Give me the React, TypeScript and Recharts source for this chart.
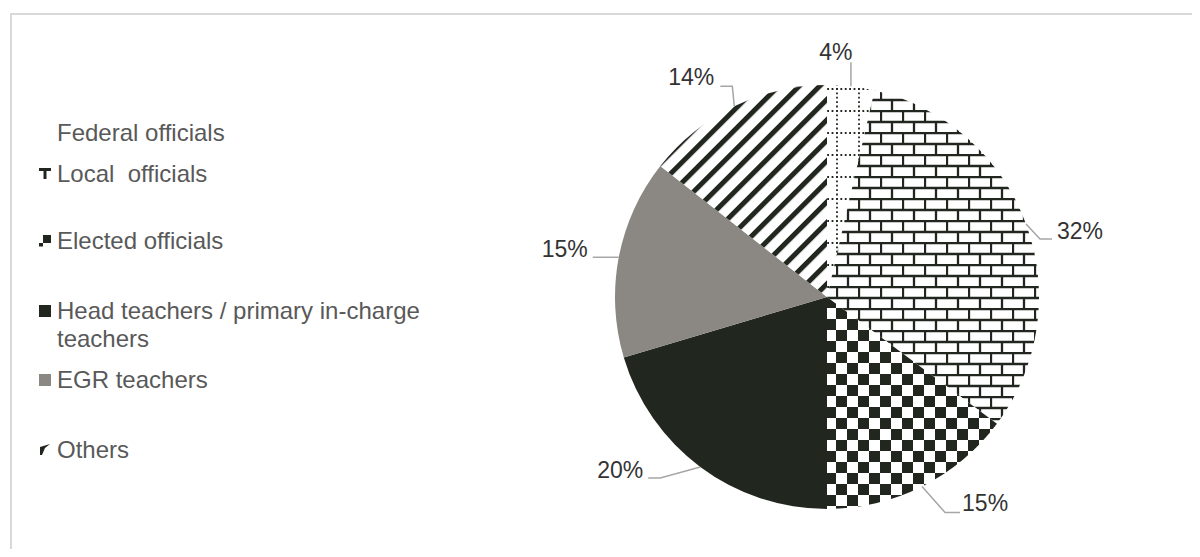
import { Pie, PieChart, Cell } from "recharts";

const categories = [
  "Federal officials",
  "Local  officials",
  "Elected officials",
  "Head teachers / primary in-charge teachers",
  "EGR teachers",
  "Others",
];
// shares; labels show them rounded
const shares = [3.6, 31.6, 14.8, 20.4, 15.2, 14.4];

const fills = [
  "url(#pFederal)",
  "url(#pLocal)",
  "url(#pElected)",
  "#21261f",
  "#8b8883",
  "url(#pOthers)",
];

// leader line shape per slice, relative to the slice's outer edge point
const leaders = [
  { ex: 0, ey: -24, hx: 0, tx: -15, ty: -10, anchor: "middle" },
  { ex: 14, ey: 15, hx: 12, tx: 5, ty: -8, anchor: "start" },
  { ex: 23, ey: 26, hx: 15, tx: 2, ty: -9, anchor: "start" },
  { ex: -40, ey: 11, hx: -12, tx: -5, ty: -8, anchor: "end" },
  { ex: -8, ey: 0, hx: -18, tx: -5, ty: -8, anchor: "end" },
  { ex: -2, ey: -20, hx: -12, tx: -6, ty: -9, anchor: "end" },
];

const legendTops = [133, 174, 241, 311, 380, 450];

const RAD = Math.PI / 180;
const FONT = "'Liberation Sans', Arial, sans-serif";
const DARK = "#21261f";

const data = categories.map((name, i) => ({ name, value: shares[i] }));

const renderLabel = (props: any) => {
  const { cx, cy, midAngle, outerRadius, index } = props;
  const x0 = cx + outerRadius * Math.cos(-midAngle * RAD);
  const y0 = cy + outerRadius * Math.sin(-midAngle * RAD);
  const l = leaders[index];
  const x1 = x0 + l.ex;
  const y1 = y0 + l.ey;
  const x2 = x1 + l.hx;
  return (
    <g key={`lbl-${index}`}>
      <polyline
        points={`${x0},${y0} ${x1},${y1} ${x2},${y1}`}
        fill="none"
        stroke="#a6a6a6"
        strokeWidth={1.5}
      />
      <text
        x={x2 + l.tx}
        y={y1 + l.ty}
        textAnchor={l.anchor}
        dominantBaseline="central"
        fontFamily={FONT}
        fontSize={23}
        fill="#333333"
      >
        {`${Math.round(shares[index])}%`}
      </text>
    </g>
  );
};

const Patterns = () => (
  <svg width={0} height={0} style={{ position: "absolute" }}>
    <defs>
      <pattern id="pFederal" patternUnits="userSpaceOnUse" width={22} height={22}>
        <rect width={22} height={22} fill="#fff" />
        <line x1={0} y1={1} x2={22} y2={1} stroke={DARK} strokeWidth={1.8} strokeDasharray="1.8 2.6" />
        <line x1={1} y1={0} x2={1} y2={22} stroke={DARK} strokeWidth={1.8} strokeDasharray="1.8 2.6" />
      </pattern>
      <pattern id="pLocal" patternUnits="userSpaceOnUse" width={22} height={22}>
        <rect width={22} height={22} fill="#fff" />
        <path
          d="M0 1 H22 M0 12 H22 M1 1 V12 M12 12 V23"
          stroke={DARK}
          strokeWidth={2.3}
          fill="none"
        />
      </pattern>
      <pattern id="pElected" patternUnits="userSpaceOnUse" width={22} height={22}>
        <rect width={22} height={22} fill="#fff" />
        <rect x={0} y={0} width={11} height={11} fill={DARK} />
        <rect x={11} y={11} width={11} height={11} fill={DARK} />
      </pattern>
      <pattern
        id="pOthers"
        patternUnits="userSpaceOnUse"
        width={14.5}
        height={14.5}
        patternTransform="rotate(45)"
      >
        <rect width={14.5} height={14.5} fill="#fff" />
        <rect x={0} y={0} width={5} height={14.5} fill={DARK} />
      </pattern>
    </defs>
  </svg>
);

const LegendIcon = ({ i }: { i: number }) => {
  let shape = null;
  if (i === 1) shape = <path d="M0 0 H12 V3 H7.5 V11 H4.5 V3 H0 Z" fill={DARK} />;
  if (i === 2)
    shape = (
      <>
        <rect x={4} y={0} width={8} height={8} fill={DARK} />
        <rect x={0} y={8} width={4} height={3.5} fill={DARK} />
      </>
    );
  if (i === 3) shape = <rect width={12} height={12} fill={DARK} />;
  if (i === 4) shape = <rect width={12} height={12} fill="#8b8883" />;
  if (i === 5) shape = <path d="M1 3 L11 0 L6 4 L3 11 L1 11 Z" fill={DARK} />;
  return (
    <svg width={12} height={12} style={{ marginTop: 8, marginRight: 6, flex: "none" }}>
      {shape}
    </svg>
  );
};

const Legend = () => (
  <>
    {categories.map((name, i) => (
      <div
        key={name}
        style={{
          position: "absolute",
          left: 39,
          top: legendTops[i] - 14,
          display: "flex",
          alignItems: "flex-start",
          fontFamily: FONT,
          fontSize: 24,
          lineHeight: "28px",
          color: "#595959",
        }}
      >
        <LegendIcon i={i} />
        <div style={{ width: 380, whiteSpace: "pre-wrap" }}>{name}</div>
      </div>
    ))}
  </>
);

export default function App() {
  return (
    <div
      style={{
        position: "relative",
        width: 1200,
        height: 557,
        margin: -8,
        overflow: "hidden",
        background: "#fff",
      }}
    >
      <Patterns />
      <div
        style={{
          position: "absolute",
          left: 10,
          top: 13,
          width: 1240,
          height: 600,
          border: "2px solid #d9d9d9",
        }}
      />
      <Legend />
      <div style={{ position: "absolute", left: 0, top: 0 }}>
        <PieChart width={1200} height={557}>
          <Pie
            data={data}
            dataKey="value"
            nameKey="name"
            cx={822}
            cy={292}
            outerRadius={212}
            startAngle={90}
            endAngle={-270}
            stroke="none"
            label={renderLabel}
            labelLine={false}
            isAnimationActive={false}
          >
            {data.map((d, i) => (
              <Cell key={d.name} fill={fills[i]} />
            ))}
          </Pie>
        </PieChart>
      </div>
    </div>
  );
}
